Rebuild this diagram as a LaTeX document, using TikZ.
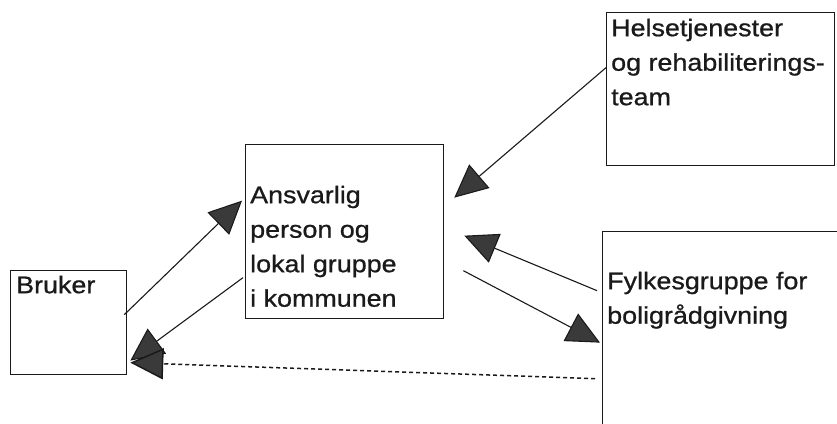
\documentclass[tikz,border=0pt]{standalone}
\usepackage{fontspec}
\setmainfont{Liberation Sans}[FakeStretch=1.12,FakeBold=0.8]
\usetikzlibrary{arrows.meta}
\definecolor{arrowgray}{HTML}{3A3A3A}
\definecolor{inkblack}{HTML}{1A1A1A}
\tikzset{
  box/.style={draw=inkblack, line width=1.3pt, rectangle, inner sep=0pt, anchor=north west},
  label/.style={anchor=north west, inner sep=0pt, align=left, text=inkblack,
                font={\fontsize{24}{34.5}\selectfont}},
  conn/.style={draw=inkblack, line width=1.1pt,
               -{Triangle[length=33pt,width=31pt,fill=arrowgray]}},
  dotconn/.style={conn, line width=1.5pt, dash pattern=on 4pt off 3pt}
}
\begin{document}
\begin{tikzpicture}[x=1pt,y=-1pt]
\useasboundingbox (0,0) rectangle (837,423);
\clip (0,0) rectangle (837,423);
\fill[white] (0,0) rectangle (837,423);
% boxes
\node[box, minimum width=116pt, minimum height=104pt] (bruker) at (10,270) {};
\node[box, minimum width=198pt, minimum height=174pt] (ans) at (245,144) {};
\node[box, minimum width=228pt, minimum height=153pt] (helse) at (606,12) {};
\node[box, minimum width=243pt, minimum height=209pt] (fylkes) at (602,231) {};
% texts
\node[label] (tbruker) at (16,268.85) {\strut Bruker};
\node[label] (tans) at (250,178.85) {\strut Ansvarlig\\person og\\lokal gruppe\\i kommunen};
\node[label] (thelse) at (611,11.85) {\strut Helsetjenester\\og rehabiliterings-\\team};
\node[label] (tfylkes) at (607,264.85) {\strut Fylkesgruppe for\\boligrådgivning};
% connectors
\draw[conn] ([xshift=-3pt,yshift=8pt]bruker.east) -- ([xshift=-3pt,yshift=31pt]ans.west);
\draw[conn] ([xshift=-2pt,yshift=-46pt]ans.west) -- ([xshift=3pt,yshift=-38pt]bruker.east);
\draw[dotconn] ([xshift=-7pt,yshift=-42.5pt]fylkes.west) -- ([xshift=3pt,yshift=-40pt]bruker.east);
\draw[conn] ([yshift=21.5pt]helse.west) -- ([xshift=10pt,yshift=34pt]ans.east);
\draw[conn] ([xshift=-5pt,yshift=45.5pt]fylkes.west) -- ([xshift=20pt,yshift=-4pt]ans.east);
\draw[conn] ([xshift=19pt,yshift=-39pt]ans.east) -- ([xshift=-2pt,yshift=-6.5pt]fylkes.west);
\end{tikzpicture}
\end{document}
